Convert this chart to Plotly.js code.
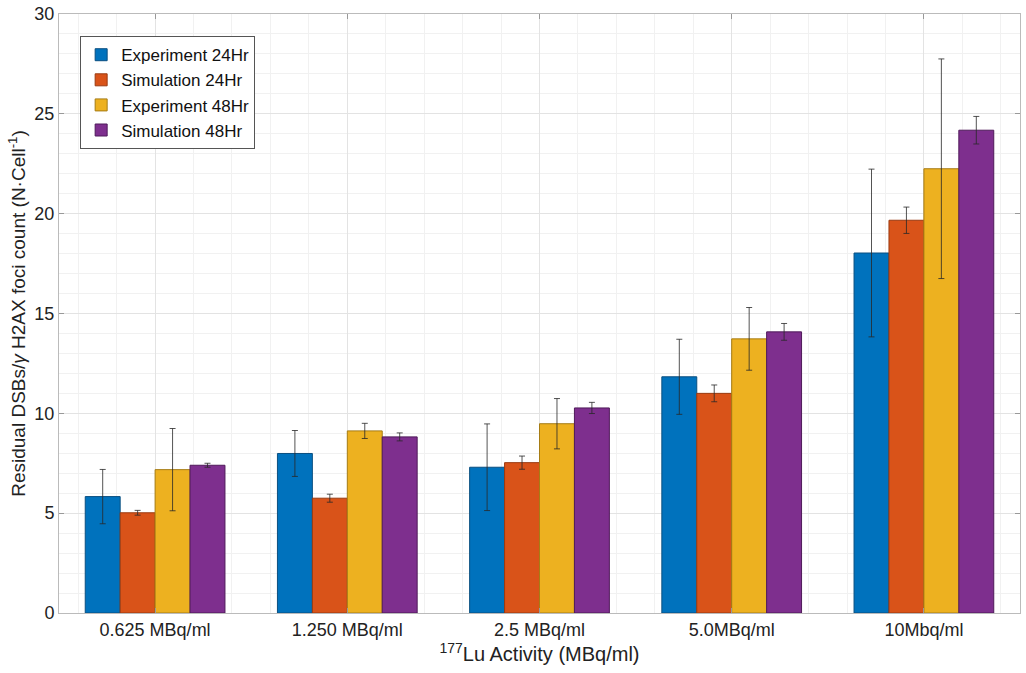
<!DOCTYPE html>
<html>
<head>
<meta charset="utf-8">
<script src="https://cdn.plot.ly/plotly-3.0.1.min.js"></script>
<style>
  html, body { margin: 0; padding: 0; background: #fff; }
  #chart { width: 1026px; height: 673px; }
</style>
</head>
<body>
<div id="chart"></div>
<script>
// activity levels (categories)
const activities = ['0.625 MBq/ml', '1.250 MBq/ml', '2.5 MBq/ml', '5.0MBq/ml', '10Mbq/ml']
const seriesNames = ['Experiment 24Hr', 'Simulation 24Hr', 'Experiment 48Hr', 'Simulation 48Hr']

// residual foci counts per series
const exp24 = [5.83, 7.99, 7.30, 11.83, 18.03]
const sim24 = [5.02, 5.75, 7.53, 11.00, 19.67]
const exp48 = [7.18, 9.12, 9.48, 13.73, 22.25]
const sim48 = [7.40, 8.82, 10.27, 14.08, 24.18]

// symmetric error bar half-widths
const exp24Err = [1.36, 1.15, 2.17, 1.88, 4.20]
const sim24Err = [0.12, 0.20, 0.33, 0.42, 0.66]
const exp48Err = [2.06, 0.38, 1.26, 1.57, 5.50]
const sim48Err = [0.10, 0.20, 0.28, 0.42, 0.69]

const colors = ['#0072BD', '#D95319', '#EDB120', '#7E2F8E']
const edges = ['#0a4f80', '#9a3a10', '#a67c14', '#4f1a5a']

const xs = activities.map((_, i) => i + 1)
const values = [exp24, sim24, exp48, sim48]
const errs = [exp24Err, sim24Err, exp48Err, sim48Err]

const data = values.map((vals, k) => ({
  type: 'bar',
  name: seriesNames[k],
  x: xs,
  y: vals,
  marker: {
    color: colors[k],
    line: { color: edges[k], width: 1 }
  },
  error_y: {
    type: 'data',
    array: errs[k],
    visible: true,
    color: 'rgba(40,40,40,0.8)',
    thickness: 1,
    width: 3
  },
  hoverinfo: 'y'
}))

const font = 'Liberation Sans, Arial, Helvetica, sans-serif'

const layout = {
  width: 1026,
  height: 673,
  margin: { l: 59, r: 6, t: 14, b: 60 },
  paper_bgcolor: '#fff',
  plot_bgcolor: '#fff',
  barmode: 'group',
  bargap: 0.273,
  bargroupgap: 0,
  font: { family: font, size: 18, color: '#222' },
  showlegend: true,
  legend: {
    x: 0.022,
    y: 0.963,
    xanchor: 'left',
    yanchor: 'top',
    bgcolor: '#fff',
    bordercolor: '#555',
    borderwidth: 1,
    font: { family: font, size: 17, color: '#111' },
    tracegroupgap: 0,
    itemwidth: 30
  },
  xaxis: {
    range: [0.5, 5.5],
    tickmode: 'array',
    tickvals: xs,
    ticktext: activities,
    ticks: 'inside',
    ticklen: 5,
    tickcolor: '#999',
    tickfont: { size: 18, color: '#222' },
    showgrid: true,
    gridcolor: '#e3e3e3',
    minor: { dtick: 0.2, showgrid: true, gridcolor: '#f1f1f1', ticks: '' },
    showline: true,
    linecolor: '#bbb',
    mirror: 'ticks',
    zeroline: false,
    automargin: false,
    title: {
      text: '<sup>177</sup>Lu Activity (MBq/ml)',
      font: { size: 20, color: '#222' },
      standoff: 2
    }
  },
  yaxis: {
    range: [0, 30],
    dtick: 5,
    ticks: 'inside',
    ticklen: 5,
    tickcolor: '#999',
    tickfont: { size: 18, color: '#222' },
    showgrid: true,
    gridcolor: '#e3e3e3',
    minor: { dtick: 1, showgrid: true, gridcolor: '#f1f1f1', ticks: '' },
    showline: true,
    linecolor: '#bbb',
    mirror: 'ticks',
    zeroline: false,
    automargin: false,
    title: {
      text: 'Residual DSBs/<i>γ</i> H2AX foci count (N·Cell<sup>-1</sup>)',
      font: { size: 19, color: '#222' },
      standoff: 3
    }
  }
}

Plotly.newPlot('chart', data, layout, { displayModeBar: false, staticPlot: true })
</script>
</body>
</html>
